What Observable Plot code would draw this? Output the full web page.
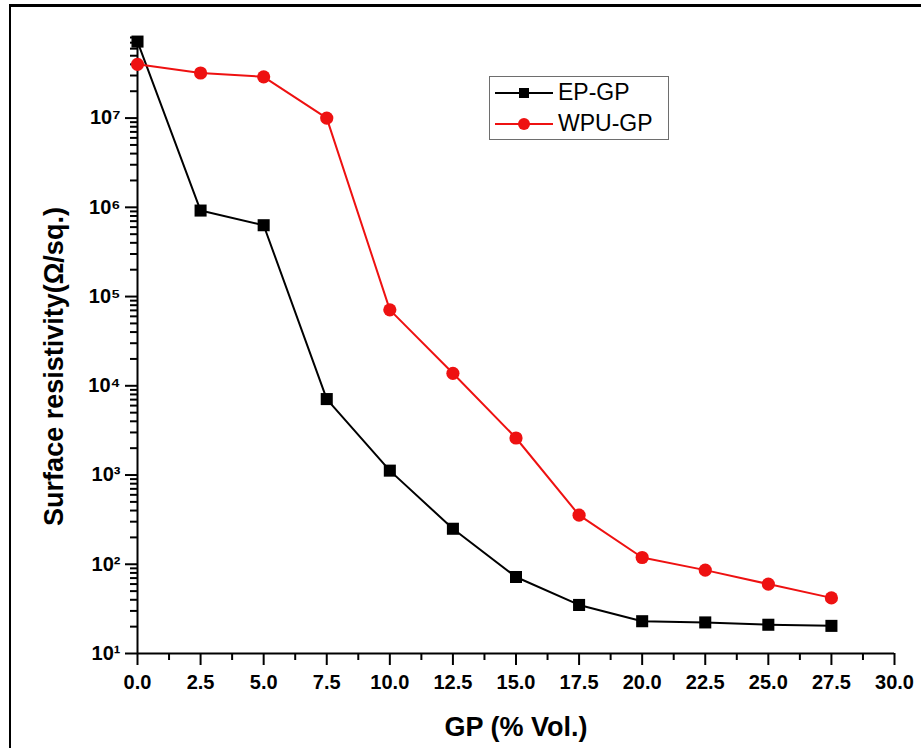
<!DOCTYPE html>
<html>
<head>
<meta charset="utf-8">
<script src="https://cdn.jsdelivr.net/npm/d3@7"></script>
<script src="https://cdn.jsdelivr.net/npm/@observablehq/plot@0.6"></script>
<style>
  body { margin: 0; background: #fff; }
  #wrap { position: relative; width: 921px; height: 748px; overflow: hidden; background: #fff;
          font-family: "Liberation Sans", Arial, Helvetica, sans-serif; }
  #frame { position: absolute; left: 9px; top: 4px; right: -10px; bottom: -10px;
           border-left: 2px solid #000; border-top: 3px solid #000; pointer-events: none; }
  #legend { position: absolute; left: 489px; top: 76px; width: 180px; height: 64px;
            border: 1px solid #6e6e6e; box-sizing: border-box; background: #fff; }
  .lrow { height: 31px; display: flex; align-items: center; }
  .lrow svg { margin-left: 5px; }
  .lrow span { margin-left: 3px; font-size: 23px; color: #000; }
</style>
</head>
<body>
<div id="wrap"><div id="chart"></div><div id="legend"></div><div id="frame"></div></div>
<script>
// ---- data ----
const gp = [0, 2.5, 5, 7.5, 10, 12.5, 15, 17.5, 20, 22.5, 25, 27.5];
const epGp = [7.2e7, 9.2e5, 6.3e5, 7.1e3, 1.12e3, 2.5e2, 72, 35, 23, 22.3, 21, 20.4];
const wpuGp = [4.0e7, 3.2e7, 2.9e7, 1.0e7, 7.1e4, 1.38e4, 2.6e3, 355, 119, 86, 60, 42];
const seriesNames = ["EP-GP", "WPU-GP"];
const seriesColors = ["#000000", "#ee1111"];
const seriesSymbols = ["square", "circle"];
const xTicks = [0, 2.5, 5, 7.5, 10, 12.5, 15, 17.5, 20, 22.5, 25, 27.5, 30];
const xMinorTicks = [1.25, 3.75, 6.25, 8.75, 11.25, 13.75, 16.25, 18.75, 21.25, 23.75, 26.25, 28.75];
const yTicks = [1e1, 1e2, 1e3, 1e4, 1e5, 1e6, 1e7];
const yTickLabels = ["10¹", "10²", "10³", "10⁴", "10⁵", "10⁶", "10⁷"];
const yMinorMultipliers = [2, 3, 4, 5, 6, 7, 8, 9];
const xTitle = "GP (% Vol.)";
const yTitle = "Surface resistivity(Ω/sq.)";

const yMinorTicks = yTicks.flatMap(t => yMinorMultipliers.map(m => m * t)).filter(v => v <= 8e7);

const series = [epGp, wpuGp].map((vals, s) =>
  gp.map((x, i) => ({x, y: vals[i], s: seriesNames[s]})));

const font = '"Liberation Sans", Arial, Helvetica, sans-serif';
const W = 921, H = 748, mL = 137, mR = 27, mT = 37, mB = 95;
const frameW = W - mL - mR, frameH = H - mT - mB;
const majorLen = 12, minorLen = 7;

const marks = [
  // tick labels from Plot's axes
  Plot.axisX({ticks: xTicks, tickSize: majorLen, tickPadding: 9, tickFormat: d => d.toFixed(1), label: null, strokeOpacity: 0}),
  Plot.axisY({ticks: yTicks, tickSize: majorLen, tickPadding: 5,
              tickFormat: d => yTickLabels[yTicks.indexOf(d)], label: null, strokeOpacity: 0}),
  // outward tick marks, drawn as tick marks on the x and y scales
  Plot.tickX(xTicks, {x: d => d, insetTop: frameH, insetBottom: -majorLen, stroke: "#000", strokeWidth: 2}),
  Plot.tickX(xMinorTicks, {x: d => d, insetTop: frameH, insetBottom: -minorLen, stroke: "#000", strokeWidth: 2}),
  Plot.tickY(yTicks, {y: d => d, insetLeft: -majorLen, insetRight: frameW, stroke: "#000", strokeWidth: 2}),
  Plot.tickY(yMinorTicks, {y: d => d, insetLeft: -minorLen, insetRight: frameW, stroke: "#000", strokeWidth: 2}),
  Plot.ruleX([0], {strokeWidth: 2}),
  Plot.ruleY([10], {strokeWidth: 2}),
];
series.forEach((data, s) => {
  marks.push(Plot.line(data, {x: "x", y: "y", stroke: seriesColors[s], strokeWidth: 2}));
  marks.push(Plot.dot(data, {x: "x", y: "y", symbol: seriesSymbols[s], r: s === 0 ? 6.8 : 6.6,
                             fill: seriesColors[s], stroke: "none"}));
});
marks.push(Plot.text([xTitle], {frameAnchor: "bottom", dy: 82, lineAnchor: "bottom", textAnchor: "middle",
                                fontSize: 27, fontWeight: "bold"}));
marks.push(Plot.text([yTitle], {frameAnchor: "left", dx: -75, dy: 21, rotate: -90, lineAnchor: "bottom",
                                textAnchor: "middle", fontSize: 27, fontWeight: "bold"}));

const chart = Plot.plot({
  width: W, height: H,
  marginLeft: mL, marginRight: mR, marginTop: mT, marginBottom: mB,
  x: {domain: [0, 30], label: null},
  y: {type: "log", domain: [10, 8e7], label: null},
  style: {fontFamily: font, fontSize: "20px", fontWeight: "bold", color: "#000", background: "#fff", overflow: "visible"},
  marks
});
document.getElementById("chart").appendChild(chart);

// legend
const legend = d3.select("#legend");
seriesNames.forEach((name, s) => {
  const row = legend.append("div").attr("class", "lrow");
  const sv = row.append("svg").attr("width", 60).attr("height", 16);
  sv.append("line").attr("x1", 0).attr("x2", 58).attr("y1", 8).attr("y2", 8)
    .attr("stroke", seriesColors[s]).attr("stroke-width", 2);
  if (seriesSymbols[s] === "square") {
    sv.append("rect").attr("x", 24).attr("y", 3).attr("width", 10).attr("height", 10).attr("fill", seriesColors[s]);
  } else {
    sv.append("circle").attr("cx", 29).attr("cy", 8).attr("r", 6).attr("fill", seriesColors[s]);
  }
  row.append("span").text(name);
});
</script>
</body>
</html>
